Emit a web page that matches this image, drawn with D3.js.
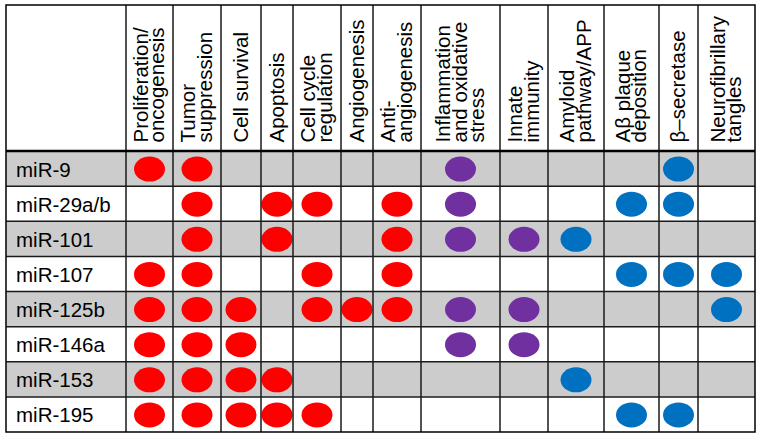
<!DOCTYPE html>
<html>
<head>
<meta charset="utf-8">
<script src="https://cdn.jsdelivr.net/npm/d3@7"></script>
<style>
  html, body { margin: 0; padding: 0; background: #fff; }
  svg { display: block; }
  text { font-family: "Liberation Sans", Arial, sans-serif; fill: #000; }
</style>
</head>
<body>
<svg id="chart" width="763" height="437"></svg>
<script>
// ---------- DATA ----------
const categories = [
  "Proliferation/\noncogenesis",
  "Tumor\nsuppression",
  "Cell survival",
  "Apoptosis",
  "Cell cycle\nregulation",
  "Angiogenesis",
  "Anti-\nangiogenesis",
  "Inflammation\nand oxidative\nstress",
  "Innate\nimmunity",
  "Amyloid\npathway/APP",
  "Aβ plaque\ndeposition",
  "β–secretase",
  "Neurofibrillary\ntangles"
];
const categoryGroup = [
  "cancer", "cancer", "cancer", "cancer", "cancer", "cancer", "cancer",
  "inflammation", "inflammation",
  "alzheimer", "alzheimer", "alzheimer", "alzheimer"
];
const mirnas = ["miR-9", "miR-29a/b", "miR-101", "miR-107", "miR-125b", "miR-146a", "miR-153", "miR-195"];
// 1 = involvement, one row per miRNA, one column per category
const involvement = [
  [1,1,0,0,0,0,0, 1,0, 0,0,1,0], // miR-9
  [0,1,0,1,1,0,1, 1,0, 0,1,1,0], // miR-29a/b
  [0,1,0,1,0,0,1, 1,1, 1,0,0,0], // miR-101
  [1,1,0,0,1,0,1, 0,0, 0,1,1,1], // miR-107
  [1,1,1,0,1,1,1, 1,1, 0,0,0,1], // miR-125b
  [1,1,1,0,0,0,0, 1,1, 0,0,0,0], // miR-146a
  [1,1,1,1,0,0,0, 0,0, 1,0,0,0], // miR-153
  [1,1,1,1,1,0,0, 0,0, 0,1,1,0]  // miR-195
];

// ---------- LAYOUT / STYLE ----------
const groupColor = { cancer: "#ff0000", inflammation: "#7030a0", alzheimer: "#0070c0" };
const tableLeft = 6, tableTop = 5, headerBottom = 151, tableBottom = 432;
const labelColRight = 126;
const colEdgesPx = [126, 173, 221, 261, 293, 341, 373, 421, 500, 548, 604, 659, 698, 755];

const svg = d3.select("#chart");

const xLeft = d3.scaleOrdinal(categories, colEdgesPx.slice(0, -1));
const xRight = d3.scaleOrdinal(categories, colEdgesPx.slice(1));
const xCenter = c => (xLeft(c) + xRight(c)) / 2;
const y = d3.scaleBand(mirnas, [headerBottom, tableBottom]).padding(0);

// row backgrounds
svg.append("g").selectAll("rect")
  .data(mirnas)
  .join("rect")
  .attr("x", tableLeft)
  .attr("y", d => y(d))
  .attr("width", colEdgesPx[colEdgesPx.length - 1] - tableLeft)
  .attr("height", y.bandwidth())
  .attr("fill", (d, i) => i % 2 === 0 ? "#cccccc" : "#ffffff");

// ellipses
const cells = [];
mirnas.forEach((m, r) => categories.forEach((c, k) => {
  if (involvement[r][k]) cells.push({ m, c, g: categoryGroup[k] });
}));
svg.append("g").selectAll("ellipse")
  .data(cells)
  .join("ellipse")
  .attr("cx", d => xCenter(d.c))
  .attr("cy", d => y(d.m) + y.bandwidth() / 2 + 0.5)
  .attr("rx", 15.5)
  .attr("ry", 12.5)
  .attr("fill", d => groupColor[d.g]);

// grid lines
const grid = svg.append("g").attr("stroke", "#1a1a1a").attr("stroke-width", 1.5);
// vertical
grid.selectAll("line.v")
  .data(categories.slice(0, -1))
  .join("line")
  .attr("class", "v")
  .attr("x1", d => xRight(d)).attr("x2", d => xRight(d))
  .attr("y1", tableTop).attr("y2", tableBottom);
grid.append("line")
  .attr("x1", labelColRight).attr("x2", labelColRight)
  .attr("y1", tableTop).attr("y2", tableBottom);
// horizontal
grid.selectAll("line.h")
  .data(mirnas.slice(1))
  .join("line")
  .attr("class", "h")
  .attr("x1", tableLeft).attr("x2", colEdgesPx[colEdgesPx.length - 1])
  .attr("y1", d => y(d)).attr("y2", d => y(d));
grid.append("line")
  .attr("x1", tableLeft).attr("x2", colEdgesPx[colEdgesPx.length - 1])
  .attr("y1", headerBottom).attr("y2", headerBottom)
  .attr("stroke", "#000").attr("stroke-width", 2.5);
// outer border
grid.append("rect")
  .attr("x", tableLeft).attr("y", tableTop)
  .attr("width", colEdgesPx[colEdgesPx.length - 1] - tableLeft)
  .attr("height", tableBottom - tableTop)
  .attr("fill", "none")
  .attr("stroke", "#000");

// row labels
svg.append("g").selectAll("text")
  .data(mirnas)
  .join("text")
  .attr("x", 16)
  .attr("y", d => y(d) + y.bandwidth() / 2 + 8)
  .attr("font-size", 20.5)
  .text(d => d);

// column headers (rotated, centered in each column, bottom-aligned)
const lineGap = 16.8;
const headers = svg.append("g").selectAll("g")
  .data(categories)
  .join("g");
headers.each(function (c) {
  const lines = c.split("\n");
  const n = lines.length;
  lines.forEach((t, i) => {
    const bx = xCenter(c) + (i - (n - 1) / 2) * lineGap + 6.5;
    d3.select(this).append("text")
      .attr("transform", `translate(${bx},142.5) rotate(-90)`)
      .attr("font-size", 20.5)
      .text(t);
  });
});
</script>
</body>
</html>
